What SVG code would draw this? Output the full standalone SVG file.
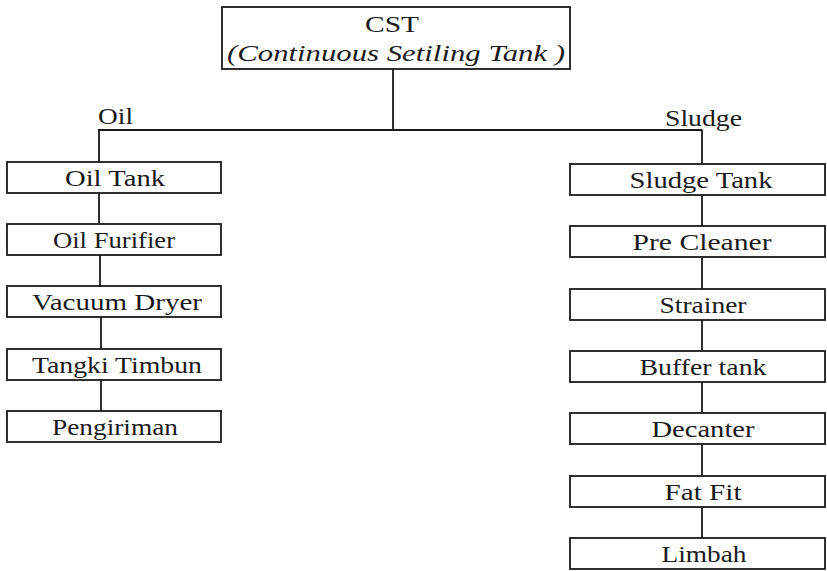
<svg xmlns="http://www.w3.org/2000/svg" width="827" height="571" viewBox="0 0 827 571">
<style>
.box{fill:#fff;stroke:#1a1a1a;stroke-width:1.8}
text{font-family:'Liberation Serif',serif;font-size:24px;fill:#1a1a1a}
.t{text-anchor:middle}
.c{fill:none;stroke:#1a1a1a;stroke-width:1.8}
</style>
<rect width="827" height="571" fill="#fff"/>
<g id="connectors">
<path class="c" d="M393 69 V130 M98 130 H702 M99 130 V162 M99 193 V224 M100 255 V286 M101 317 V349 M101 380 V411 M702 130 V164 M702 195 V226 M702 257 V289 M702 320 V351 M702 382 V413 M702 444 V476 M702 507 V538"/>
</g>
<g id="cst">
<rect class="box" x="222" y="7" width="348" height="62"/>
<text class="t" x="392" y="32" textLength="54" lengthAdjust="spacingAndGlyphs">CST</text>
<text class="t" x="396" y="61" font-style="italic" textLength="338" lengthAdjust="spacingAndGlyphs">(Continuous Setiling Tank )</text>
</g>
<g id="label-oil"><text x="98" y="124" textLength="35" lengthAdjust="spacingAndGlyphs">Oil</text></g>
<g id="label-sludge"><text x="665" y="126" textLength="77" lengthAdjust="spacingAndGlyphs">Sludge</text></g>
<g id="oil-tank"><rect class="box" x="7" y="162" width="214" height="31"/><text class="t" x="115" y="186" textLength="100" lengthAdjust="spacingAndGlyphs">Oil Tank</text></g>
<g id="oil-furifier"><rect class="box" x="7" y="224" width="214" height="31"/><text class="t" x="114" y="248" textLength="122" lengthAdjust="spacingAndGlyphs">Oil Furifier</text></g>
<g id="vacuum-dryer"><rect class="box" x="7" y="286" width="214" height="31"/><text class="t" x="117" y="310" textLength="170" lengthAdjust="spacingAndGlyphs">Vacuum Dryer</text></g>
<g id="tangki-timbun"><rect class="box" x="7" y="349" width="214" height="31"/><text class="t" x="117" y="373" textLength="170" lengthAdjust="spacingAndGlyphs">Tangki Timbun</text></g>
<g id="pengiriman"><rect class="box" x="7" y="411" width="214" height="31"/><text class="t" x="115" y="435" textLength="126" lengthAdjust="spacingAndGlyphs">Pengiriman</text></g>
<g id="sludge-tank"><rect class="box" x="570" y="164" width="255" height="31"/><text class="t" x="701" y="188" textLength="143" lengthAdjust="spacingAndGlyphs">Sludge Tank</text></g>
<g id="pre-cleaner"><rect class="box" x="570" y="226" width="255" height="31"/><text class="t" x="702" y="250" textLength="139" lengthAdjust="spacingAndGlyphs">Pre Cleaner</text></g>
<g id="strainer"><rect class="box" x="570" y="289" width="255" height="31"/><text class="t" x="703" y="313" textLength="87" lengthAdjust="spacingAndGlyphs">Strainer</text></g>
<g id="buffer-tank"><rect class="box" x="570" y="351" width="255" height="31"/><text class="t" x="703" y="375" textLength="127" lengthAdjust="spacingAndGlyphs">Buffer tank</text></g>
<g id="decanter"><rect class="box" x="570" y="413" width="255" height="31"/><text class="t" x="703" y="437" textLength="103" lengthAdjust="spacingAndGlyphs">Decanter</text></g>
<g id="fat-fit"><rect class="box" x="570" y="476" width="255" height="31"/><text class="t" x="703" y="500" textLength="77" lengthAdjust="spacingAndGlyphs">Fat Fit</text></g>
<g id="limbah"><rect class="box" x="570" y="538" width="255" height="31"/><text class="t" x="704" y="562" textLength="85" lengthAdjust="spacingAndGlyphs">Limbah</text></g>
</svg>
